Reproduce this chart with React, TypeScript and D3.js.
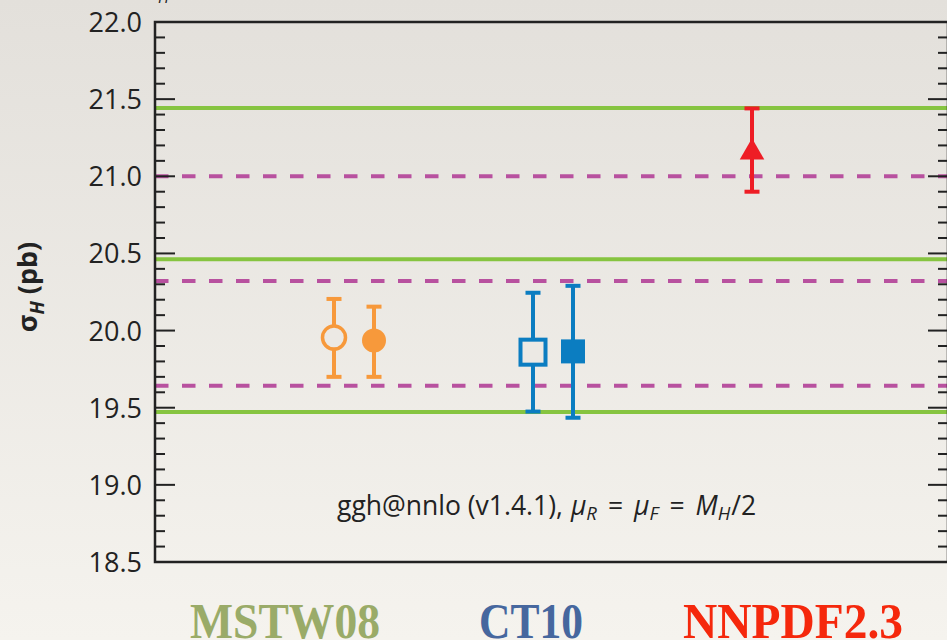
import React from "react";
import * as d3 from "d3";

// ---- data ----
const groups = ["MSTW08", "CT10", "NNPDF2.3"];
const groupColors = ["#9aab68", "#46679e", "#f5280c"];

// markers: group index, offset slot, central value, upper, lower
const pointGroup = [0, 0, 1, 1, 2];
const pointSlot = [-1, 1, -1, 1, 0];
const pointValue = [19.955, 19.935, 19.86, 19.865, 21.155];
const pointHigh = [20.205, 20.155, 20.245, 20.29, 21.44];
const pointLow = [19.70, 19.70, 19.475, 19.435, 20.90];
const pointShape = ["circle-open", "circle", "square-open", "square", "triangle"];
const pointColor = ["#f7993b", "#f7993b", "#0b7dc1", "#0b7dc1", "#ee1d25"];

const greenLines = [21.443, 20.462, 19.473];
const dashedLines = [21.0, 20.322, 19.642];

const yTicksMajor = [18.5, 19.0, 19.5, 20.0, 20.5, 21.0, 21.5, 22.0];
const yDomain = [18.5, 22.0];

const W = 947;
const H = 640;
const left = 155;
const right = 948;
const top = 22;
const bottom = 562;

export default function App() {
  const y = d3.scaleLinear().domain(yDomain).range([bottom, top]);
  const x = d3.scaleLinear().domain([0, 4]).range([left, 951]);
  const slotOffset = 20;
  const minorTicks = d3.range(185, 221).map((v) => v / 10);

  const labelX = [285, 531, 793];
  const labelW = [190, 104, 220];
  const gap = 11;

  return (
    <svg
      width={W}
      height={H}
      style={{ position: "absolute", left: 0, top: 0 }}
      xmlns="http://www.w3.org/2000/svg"
    >
      <defs>
        <linearGradient id="bg" x1="0" y1="0" x2="0" y2="1">
          <stop offset="0" stopColor="#e3e0db" />
          <stop offset="1" stopColor="#f5f3ee" />
        </linearGradient>
      </defs>
      <rect x={0} y={0} width={W} height={H} fill="url(#bg)" />

      {/* clipped title fragment */}
      <text x={158} y={3} fontFamily="Open Sans" fontStyle="italic" fontSize={16} fill="#222">
        H
      </text>

      {/* reference lines */}
      {greenLines.map((v, i) => (
        <line key={"g" + i} x1={left} x2={right} y1={y(v)} y2={y(v)} stroke="#86c440" strokeWidth={4} />
      ))}
      {dashedLines.map((v, i) => (
        <line
          key={"d" + i}
          x1={left}
          x2={right}
          y1={y(v)}
          y2={y(v)}
          stroke="#b8519f"
          strokeWidth={4}
          strokeDasharray="13.5 13.5"
        />
      ))}

      {/* ticks */}
      {minorTicks.map((v, i) => {
        const major = Math.abs(v * 2 - Math.round(v * 2)) < 1e-6;
        const len = major ? 20 : 10;
        return (
          <g key={"t" + i}>
            <line x1={left} x2={left + len} y1={y(v)} y2={y(v)} stroke="#222" strokeWidth={2} />
            <line x1={right} x2={right - len} y1={y(v)} y2={y(v)} stroke="#222" strokeWidth={2} />
          </g>
        );
      })}

      {/* frame */}
      <rect x={left} y={top} width={right - left} height={bottom - top} fill="none" stroke="#222" strokeWidth={2.5} />

      {/* tick labels */}
      {yTicksMajor.map((v) => (
        <text
          key={"l" + v}
          x={142}
          y={y(v) + 10}
          textAnchor="end"
          fontFamily="Open Sans"
          fontSize={27}
          fill="#222"
        >
          {d3.format(".1f")(v)}
        </text>
      ))}

      {/* y label */}
      <text
        transform={`translate(37, 287) rotate(-90)`}
        textAnchor="middle"
        fontFamily="Open Sans"
        fontWeight="bold"
        fontSize={27}
        fill="#222"
      >
        σ
        <tspan fontStyle="italic" fontSize={19} dy={7}>H</tspan>
        <tspan dy={-7}> (pb)</tspan>
      </text>

      {/* annotation */}
      <text x={337} y={515} fontFamily="Open Sans" fontSize={26.5} fill="#222">
        <tspan>{"ggh@nnlo (v1.4.1),"}</tspan>
        <tspan dx={gap - 3} fontStyle="italic">μ</tspan>
        <tspan fontStyle="italic" fontSize={18.5} dy={5}>R</tspan>
        <tspan dy={-5} dx={gap}>=</tspan>
        <tspan dx={gap} fontStyle="italic">μ</tspan>
        <tspan fontStyle="italic" fontSize={18.5} dy={5}>F</tspan>
        <tspan dy={-5} dx={gap}>=</tspan>
        <tspan dx={gap} fontStyle="italic">M</tspan>
        <tspan fontStyle="italic" fontSize={18.5} dy={5}>H</tspan>
        <tspan dy={-5} dx={1}>/2</tspan>
      </text>

      {/* points */}
      {pointValue.map((v, i) => {
        const cx = x(pointGroup[i] + 1) + pointSlot[i] * slotOffset;
        const col = pointColor[i];
        const cy = y(v);
        const shape = pointShape[i];
        let marker: React.ReactNode = null;
        if (shape === "circle-open") {
          marker = <circle cx={cx} cy={cy} r={11.5} fill="#ece9e4" stroke={col} strokeWidth={3.5} />;
        } else if (shape === "circle") {
          marker = <circle cx={cx} cy={cy} r={12} fill={col} />;
        } else if (shape === "square-open") {
          marker = <rect x={cx - 12.5} y={cy - 12.5} width={25} height={25} fill="#ece9e4" stroke={col} strokeWidth={4} />;
        } else if (shape === "square") {
          marker = <rect x={cx - 12} y={cy - 12} width={24} height={24} fill={col} />;
        } else {
          const tri = d3.symbol(d3.symbolTriangle, 260)();
          marker = <path d={tri || ""} transform={`translate(${cx},${cy})`} fill={col} />;
        }
        return (
          <g key={"p" + i}>
            <line x1={cx} x2={cx} y1={y(pointHigh[i])} y2={y(pointLow[i])} stroke={col} strokeWidth={4} />
            <line x1={cx - 7.5} x2={cx + 7.5} y1={y(pointHigh[i])} y2={y(pointHigh[i])} stroke={col} strokeWidth={4} />
            <line x1={cx - 7.5} x2={cx + 7.5} y1={y(pointLow[i])} y2={y(pointLow[i])} stroke={col} strokeWidth={4} />
            {marker}
          </g>
        );
      })}

      {/* group labels */}
      {groups.map((g, i) => (
        <text
          key={g}
          x={labelX[i]}
          y={638}
          textAnchor="middle"
          fontFamily="Liberation Serif"
          fontWeight="bold"
          fontSize={50}
          fill={groupColors[i]}
          textLength={labelW[i]}
          lengthAdjust="spacingAndGlyphs"
        >
          {g}
        </text>
      ))}
    </svg>
  );
}
